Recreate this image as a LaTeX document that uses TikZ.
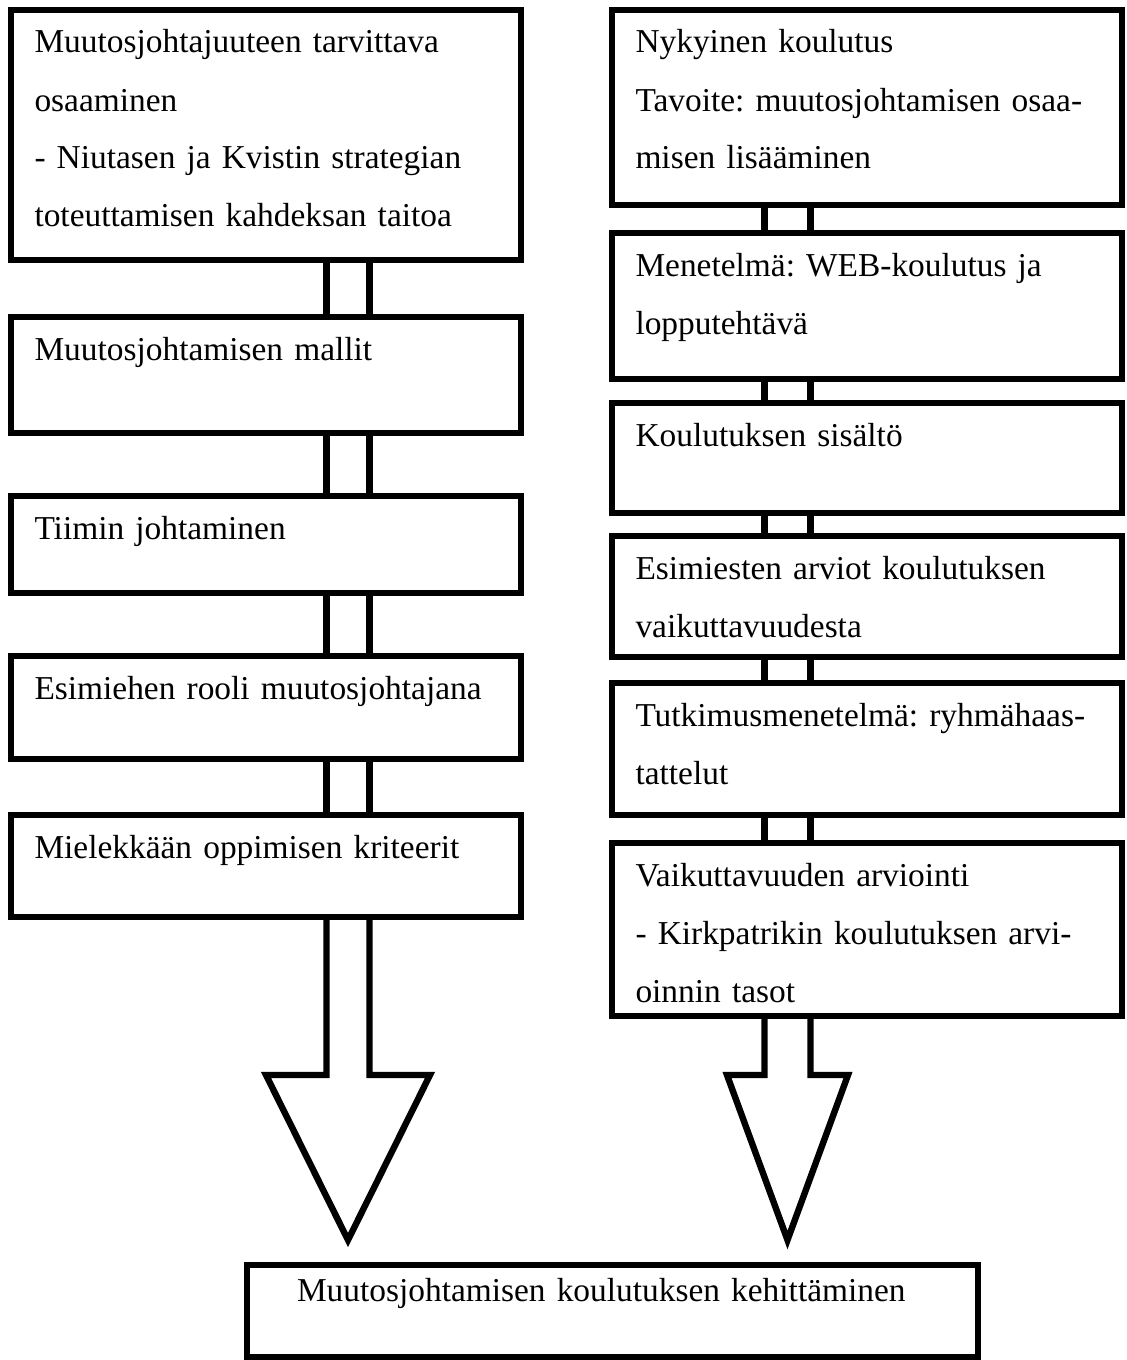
\documentclass[tikz,border=0pt]{standalone}
\usepackage{fontspec}
\setmainfont{Liberation Serif}
\usetikzlibrary{positioning}

\begin{document}
\begin{tikzpicture}[auto, line width=3.2pt,
    block/.style={draw, rectangle, outer sep=0pt, inner xsep=11.75pt, inner ysep=0pt, text width=231.5pt, align=left, text height=21.5pt, font=\fontsize{16.7pt}{29pt}\selectfont\frenchspacing}]
    \useasboundingbox (0,0) rectangle (563pt,-680pt);

    % Vasen sarake
    \node [block, anchor=north west, text depth=103.5pt] (block1) at (5.5pt,-5pt) {Muutosjohtajuuteen tarvittava\\ osaaminen\\ - Niutasen ja Kvistin strategian\\ toteuttamisen kahdeksan taitoa};
    \node [block, below=28.5pt of block1, text depth=36.5pt] (block2) {Muutosjohtamisen mallit};
    \node [block, below=31.5pt of block2, text depth=27pt] (block3) {Tiimin johtaminen};
    \node [block, below=31.5pt of block3, text depth=30pt] (block4) {Esimiehen rooli muutosjohtajana};
    \node [block, below=28pt of block4, text depth=29.5pt] (block5) {Mielekkään oppimisen kriteerit};

    % Oikea sarake
    \node [block, anchor=north west, text depth=76pt] (block6) at (306pt,-5pt) {Nykyinen koulutus\\ Tavoite: muutosjohtamisen osaa-\\ misen lisääminen};
    \node [block, below=14pt of block6, text depth=51.5pt] (block7) {Menetelmä: WEB-koulutus ja\\ lopputehtävä};
    \node [block, below=12pt of block7, text depth=33.5pt] (block8) {Koulutuksen sisältö};
    \node [block, below=11.5pt of block8, text depth=39pt] (block9) {Esimiesten arviot koulutuksen\\ vaikuttavuudesta};
    \node [block, below=13pt of block9, text depth=44.5pt] (block10) {Tutkimusmenetelmä: ryhmähaas-\\ tattelut};
    \node [block, below=14pt of block10, text depth=65pt] (block11) {Vaikuttavuuden arviointi\\ - Kirkpatrikin koulutuksen arvi-\\ oinnin tasot};

    % Alin laatikko
    \node [block, anchor=north west, inner xsep=25pt, text width=315.5pt, text height=18pt, text depth=28pt] (block12) at (123.5pt,-632.5pt) {Muutosjohtamisen koulutuksen kehittäminen};

    % Kaksoisviivat
    \foreach \a/\b in {block1/block2, block2/block3, block3/block4, block4/block5} {
        \draw ([xshift=30.25pt]\a.south) -- ([xshift=30.25pt]\b.north);
        \draw ([xshift=51.75pt]\a.south) -- ([xshift=51.75pt]\b.north);
    }
    \foreach \a/\b in {block6/block7, block7/block8, block8/block9, block9/block10, block10/block11} {
        \draw ([xshift=-51.25pt]\a.south) -- ([xshift=-51.25pt]\b.north);
        \draw ([xshift=-28.25pt]\a.south) -- ([xshift=-28.25pt]\b.north);
    }

    % Isot nuolet
    \draw ([xshift=30.25pt]block5.south) -- ++(0,-79pt) -- ++(-30.25pt,0) -- ++(41pt,-82.5pt) -- ++(41pt,82.5pt) -- ++(-30.25pt,0) -- ++(0,79pt);
    \draw ([xshift=-51.25pt]block11.south) -- ++(0,-29.5pt) -- ++(-18.75pt,0) -- ++(30.25pt,-82.5pt) -- ++(30.25pt,82.5pt) -- ++(-18.75pt,0) -- ++(0,29.5pt);
\end{tikzpicture}
\end{document}
